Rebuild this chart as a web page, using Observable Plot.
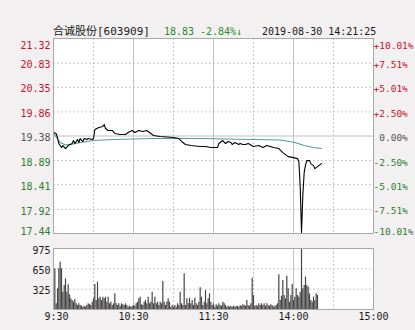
<!DOCTYPE html>
<html><head><meta charset="utf-8">
<script src="https://cdn.jsdelivr.net/npm/d3@7"></script>
<script src="https://cdn.jsdelivr.net/npm/@observablehq/plot@0.6"></script>
<style>
html,body{margin:0;padding:0;}
body{background:#f2f0f0;width:415px;height:330px;overflow:hidden;position:relative;font-family:"DejaVu Sans Mono",monospace;}
#price{position:absolute;top:0;left:0;}
#vol{position:absolute;top:240px;left:0;}
#title{position:absolute;top:25px;left:0;height:13px;width:415px;font-size:10px;line-height:13px;color:#1a1a1a;}
#title span{position:absolute;top:0;white-space:pre;}
</style></head><body>
<div id="price"></div><div id="vol"></div>
<div id="title">
  <span style="left:53px;font-size:11px;font-family:'DejaVu Sans Mono','Noto Sans CJK SC',monospace;">合诚股份[603909]</span>
  <span style="left:164px;color:#2e8b2e;">18.83</span>
  <span style="left:200px;color:#2e8b2e;">-2.84%↓</span>
  <span style="left:262px;">2019-08-30 14:21:25</span>
</div>
<script>
// ---- data ----
const prevClose = 19.38;
const priceTicks = [21.32, 20.83, 20.35, 19.86, 19.38, 18.89, 18.41, 17.92, 17.44];
const pctLabels = ["+10.01%", "+7.51%", "+5.01%", "+2.50%", "\u00a00.00%", "-2.50%", "-5.01%", "-7.51%", "-10.01%"];
const timeTickMinutes = [0, 60, 120, 180, 240];
const timeTickLabels = ["9:30", "10:30", "11:30", "14:00", "15:00"];
const gridSolidMinutes = [60, 120, 180];
const gridDashedMinutes = [30, 90, 150, 210];
const volTicks = [975, 650, 325];

const priceMinutes = [0,2,3,4,6,7,9,11,14,15,16,18,19,20,22,23,25,26,29,30,31,34,37,38,39,41,44,46,50,54,56,59,61,64,67,70,75,80,85,90,94,97,99,103,110,114,118,123,124,127,129,131,133,134,136,139,140,142,144,146,150,154,157,160,165,169,172,176,180,183,184,185,186,187,188,189,190,192,193,195,196,199,201];
const priceValues = [19.45,19.43,19.35,19.23,19.15,19.19,19.13,19.19,19.23,19.29,19.23,19.31,19.25,19.33,19.27,19.33,19.31,19.33,19.31,19.33,19.51,19.55,19.57,19.61,19.53,19.49,19.49,19.43,19.41,19.41,19.45,19.49,19.45,19.49,19.47,19.49,19.39,19.37,19.36,19.35,19.33,19.25,19.21,19.19,19.17,19.17,19.15,19.15,19.23,19.29,19.23,19.27,19.25,19.21,19.25,19.21,19.23,19.21,19.21,19.23,19.17,19.19,19.15,19.19,19.15,19.13,19.05,18.97,18.95,18.93,18.88,18.40,17.46,18.20,18.65,18.80,18.89,18.89,18.83,18.79,18.73,18.79,18.83];

const avgMinutes = [0,2,5,9,15,20,30,45,60,75,90,110,130,150,170,175,181,188,195,201];
const avgValues = [19.45,19.36,19.25,19.20,19.22,19.25,19.29,19.31,19.32,19.33,19.33,19.33,19.32,19.31,19.30,19.28,19.25,19.19,19.15,19.13];

// volume per minute, starting at minute 1
const volumes = [
650,91,330,650,757,650,277,384,490,277,
394,235,171,144,117,160,91,64,91,64,
53,37,53,37,64,91,80,64,117,171,
400,144,437,171,197,144,197,171,197,117,
197,91,117,64,91,250,91,64,91,53,
91,75,64,91,64,37,53,37,48,64,
53,91,117,171,197,75,64,117,144,91,
197,91,117,277,91,197,91,117,64,117,
91,448,117,64,117,171,117,37,64,37,
64,37,91,64,277,91,64,570,64,171,
91,181,91,144,64,181,91,64,117,347,
197,64,117,304,91,171,250,117,64,91,
37,75,53,91,64,53,117,91,64,37,
53,37,48,37,53,37,53,48,37,64,
48,75,64,53,144,64,53,91,501,224,
53,64,48,91,64,91,64,91,53,91,
64,53,75,64,37,53,64,91,554,144,
213,464,224,171,533,330,117,224,400,144,
197,330,224,197,277,960,330,384,517,384,
357,250,144,117,197,144,250,224];

// ---- build ----
const priceData = priceMinutes.map((m, i) => ({m, p: priceValues[i]}));
const avgData = avgMinutes.map((m, i) => ({m, p: avgValues[i]}));
const volData = volumes.map((v, i) => ({m: i + 1, v}));
const RED = "#c8102e", GREEN = "#2f7d32", GREY = "#555555";
const tickColor = d => d > prevClose + 1e-9 ? RED : (d < prevClose - 1e-9 ? GREEN : GREY);
const GRID = "#c4c4c4", GRIDSOLID = "#c0c0c0", FRAME = "#a8a8a8";
const font = {background: "transparent", fontFamily: "'DejaVu Sans Mono', monospace", fontSize: "10px"};
const last = priceTicks.length - 1;

function sideLabels(dy, filter) {
  return [
    Plot.text(priceTicks, {filter, y: d => d, text: d => d.toFixed(2), frameAnchor: "left", textAnchor: "end", dx: -3, dy, fill: tickColor}),
    Plot.text(priceTicks, {filter, y: d => d, text: (d, i) => pctLabels[i], frameAnchor: "right", textAnchor: "start", dx: 0, dy, fill: tickColor, fontSize: 9.5})
  ];
}

const price = Plot.plot({
  width: 415, height: 240,
  marginTop: 38, marginBottom: 7, marginLeft: 53, marginRight: 42,
  x: {domain: [0, 240], axis: null},
  y: {domain: [17.44, 21.32], axis: null},
  style: font,
  marks: [
    Plot.frame({fill: "white", stroke: "none"}),
    Plot.ruleY(priceTicks.filter(d => d !== prevClose), {stroke: GRID, strokeDasharray: "2,2"}),
    Plot.ruleY([prevClose], {stroke: GRIDSOLID}),
    Plot.ruleX(gridDashedMinutes, {stroke: GRID, strokeDasharray: "2,2"}),
    Plot.ruleX(gridSolidMinutes, {stroke: GRIDSOLID}),
    Plot.line(avgData, {x: "m", y: "p", stroke: "#4e9e9a", strokeWidth: 1.1}),
    Plot.line(priceData, {x: "m", y: "p", stroke: "#000", strokeWidth: 1.1}),
    Plot.frame({stroke: FRAME}),
    ...sideLabels(7, (d, i) => i === 0),
    ...sideLabels(2, (d, i) => i > 0 && i < last),
    ...sideLabels(-2, (d, i) => i === last)
  ]
});
document.getElementById("price").appendChild(price);

const vol = Plot.plot({
  width: 415, height: 90,
  marginTop: 8, marginBottom: 21, marginLeft: 53, marginRight: 42,
  x: {domain: [0, 240], axis: null},
  y: {domain: [0, 975], axis: null},
  style: font,
  marks: [
    Plot.frame({fill: "white", stroke: "none"}),
    Plot.ruleY([650, 325], {stroke: GRID, strokeDasharray: "2,2"}),
    Plot.ruleX(gridDashedMinutes, {stroke: GRID, strokeDasharray: "2,2"}),
    Plot.ruleX(gridSolidMinutes, {stroke: GRIDSOLID}),
    Plot.ruleX(volData, {x: "m", y1: 0, y2: "v", stroke: "#454545", strokeWidth: 1.2}),
    Plot.frame({stroke: FRAME}),
    Plot.text(volTicks, {y: d => d, text: d => String(d), frameAnchor: "left", textAnchor: "end", dx: -3, dy: 2, fill: "#1a1a1a"}),
    Plot.text(timeTickMinutes, {filter: (d, i) => i === 0, x: d => d, text: (d, i) => timeTickLabels[i], frameAnchor: "bottom", dy: 10, dx: 3, fill: "#1a1a1a"}),
    Plot.text(timeTickMinutes, {filter: (d, i) => i > 0, x: d => d, text: (d, i) => timeTickLabels[i], frameAnchor: "bottom", dy: 10, fill: "#1a1a1a"})
  ]
});
document.getElementById("vol").appendChild(vol);
</script>
</body></html>
